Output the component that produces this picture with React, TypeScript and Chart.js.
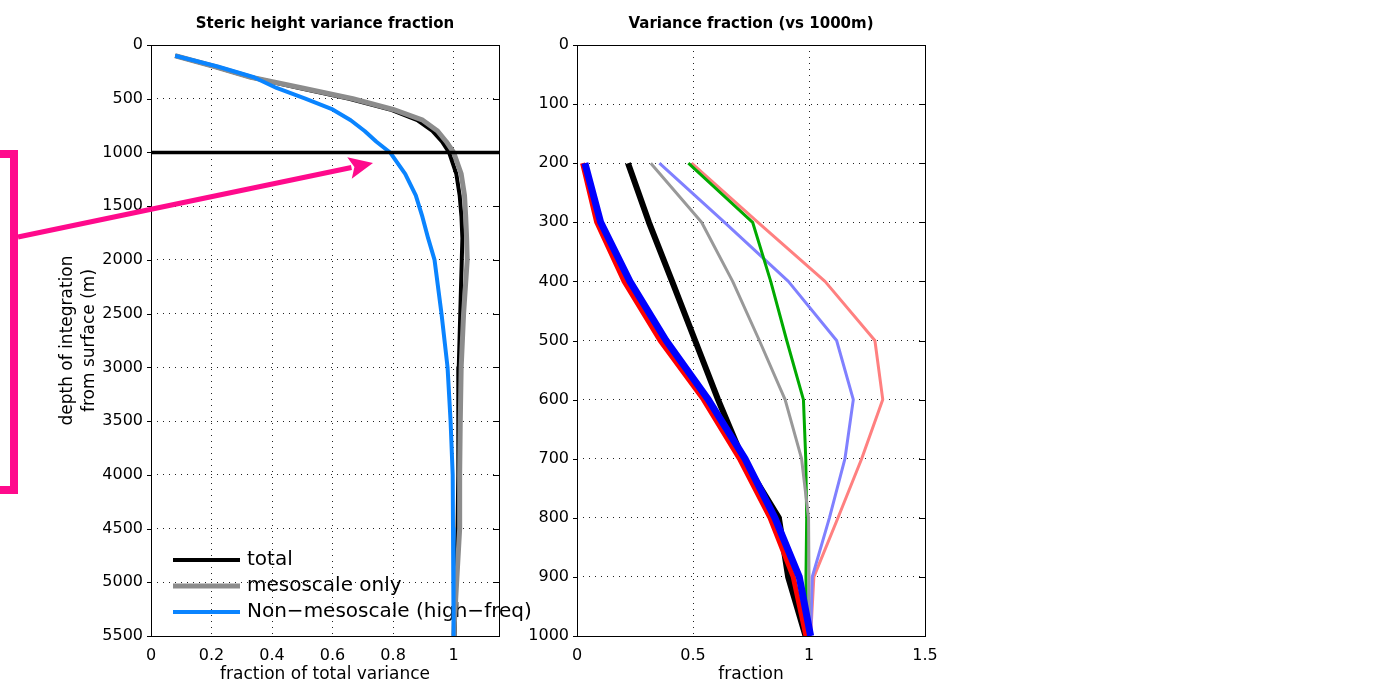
import React, { useEffect, useRef } from 'react';
import { Chart, registerables } from 'chart.js';

Chart.register(...registerables);

const FONT = '"DejaVu Sans", "Liberation Sans", sans-serif';

// ---------- Left panel: Steric height variance fraction ----------
const leftDepths = [100, 200, 300, 400, 500, 600, 700, 800, 900, 1000, 1200, 1400, 1600, 1800, 2000, 2500, 3000, 3500, 4000, 4500, 5000, 5500];
const totalFraction = [0.08, 0.21, 0.33, 0.49, 0.655, 0.79, 0.88, 0.93, 0.962, 0.985, 1.009, 1.02, 1.026, 1.029, 1.027, 1.022, 1.017, 1.016, 1.015, 1.013, 1.007, 1.003];
const mesoFraction = [0.08, 0.21, 0.33, 0.5, 0.667, 0.8, 0.898, 0.947, 0.976, 1.0, 1.025, 1.036, 1.04, 1.043, 1.045, 1.033, 1.025, 1.022, 1.02, 1.02, 1.01, 1.0];
const nonMesoFraction = [0.08, 0.22, 0.34, 0.415, 0.51, 0.6, 0.66, 0.706, 0.745, 0.79, 0.84, 0.875, 0.897, 0.916, 0.937, 0.96, 0.98, 0.99, 0.997, 0.998, 1.0, 1.0];
const referenceDepth = 1000;
const leftYTicks = [0, 500, 1000, 1500, 2000, 2500, 3000, 3500, 4000, 4500, 5000, 5500];
const leftXTicks = [0, 0.2, 0.4, 0.6, 0.8, 1];
const leftXMax = 1.15;
const leftYMax = 5500;
const leftLegend = ['total', 'mesoscale only', 'Non\u2212mesoscale (high\u2212freq)'];

// ---------- Right panel: Variance fraction (vs 1000m) ----------
const rightDepths = [200, 300, 400, 500, 600, 700, 800, 900, 1000];
const rightRed = [0.024, 0.085, 0.203, 0.358, 0.545, 0.7, 0.832, 0.932, 0.987];
const rightBlue = [0.034, 0.102, 0.228, 0.384, 0.566, 0.724, 0.853, 0.958, 1.007];
const rightBlack = [0.22, 0.31, 0.41, 0.509, 0.608, 0.715, 0.87, 0.91, 0.985];
const rightGray = [0.318, 0.537, 0.671, 0.786, 0.897, 0.968, 0.998, 1.0, 1.0];
const rightGreen = [0.48, 0.757, 0.835, 0.904, 0.976, 0.986, 0.99, 0.987, 0.99];
const rightLightBlue = [0.355, 0.636, 0.911, 1.119, 1.191, 1.155, 1.088, 1.014, 1.007];
const rightLightRed = [0.494, 0.78, 1.069, 1.284, 1.318, 1.227, 1.125, 1.021, 1.007];
const rightYTicks = [0, 100, 200, 300, 400, 500, 600, 700, 800, 900, 1000];
const rightXTicks = [0, 0.5, 1, 1.5];

const W = 1384;
const H = 698;

function pts(xs: number[], ys: number[]) {
  return xs.map((x, i) => ({ x, y: ys[i] }));
}

function line(data: any[], color: string, width: number, order: number) {
  return {
    data,
    showLine: true,
    borderColor: color,
    backgroundColor: color,
    borderWidth: width,
    pointRadius: 0,
    pointHoverRadius: 0,
    fill: false,
    tension: 0,
    order,
    borderJoinStyle: 'round' as const,
    borderCapStyle: 'butt' as const,
  };
}

function makeScales(xTicks: number[], xMax: number, yTicks: number[], yMax: number, yWidth: number) {
  const tickFont = { family: FONT, size: 16 };
  return {
    x: {
      type: 'linear' as const,
      min: 0,
      max: xMax,
      afterFit: (s: any) => { s.height = 62; },
      afterBuildTicks: (a: any) => { a.ticks = xTicks.map((v) => ({ value: v })); },
      grid: { color: '#222', lineWidth: 1, drawTicks: false },
      border: { display: false, dash: [1, 5] },
      ticks: { padding: 10, color: '#000', font: tickFont, autoSkip: false, maxRotation: 0, callback: (v: any) => String(v) },
    },
    y: {
      type: 'linear' as const,
      reverse: true,
      min: 0,
      max: yMax,
      afterFit: (s: any) => { s.width = yWidth; },
      afterBuildTicks: (a: any) => { a.ticks = yTicks.map((v) => ({ value: v })); },
      grid: { color: '#222', lineWidth: 1, drawTicks: false },
      border: { display: false, dash: [1, 5] },
      ticks: { padding: 8, color: '#000', font: tickFont, autoSkip: false, callback: (v: any) => String(v) },
    },
  };
}

function frameAndTicks(chart: any, yTicks: number[]) {
  const { ctx, chartArea } = chart;
  const { left, right, top, bottom } = chartArea;
  const ys = chart.scales.y;
  ctx.save();
  ctx.strokeStyle = '#000';
  ctx.lineWidth = 1;
  ctx.strokeRect(Math.round(left) + 0.5, Math.round(top) + 0.5, Math.round(right - left), Math.round(bottom - top));
  ctx.beginPath();
  yTicks.forEach((v) => {
    const y = Math.round(ys.getPixelForValue(v)) + 0.5;
    ctx.moveTo(left - 4, y);
    ctx.lineTo(left, y);
    ctx.moveTo(right - 6, y);
    ctx.lineTo(right, y);
  });
  ctx.stroke();
  ctx.restore();
}

function drawText(ctx: any, text: string, x: number, y: number, font: string, rot = 0) {
  ctx.save();
  ctx.translate(x, y);
  if (rot) ctx.rotate(rot);
  ctx.font = font;
  ctx.fillStyle = '#000';
  ctx.textAlign = 'center';
  ctx.textBaseline = 'middle';
  ctx.fillText(text, 0, 0);
  ctx.restore();
}

const leftPlugin = {
  id: 'leftDecor',
  beforeDatasetsDraw(chart: any) {
    const { ctx } = chart;
    const colors = ['#000000', '#8c8c8c', '#0a84ff'];
    const widths = [4, 5, 4];
    const ys = [560, 586, 612];
    ctx.save();
    leftLegend.forEach((t, i) => {
      ctx.strokeStyle = colors[i];
      ctx.lineWidth = widths[i];
      ctx.beginPath();
      ctx.moveTo(173, ys[i]);
      ctx.lineTo(240, ys[i]);
      ctx.stroke();
      ctx.font = `20px ${FONT}`;
      ctx.fillStyle = '#000';
      ctx.textAlign = 'left';
      ctx.textBaseline = 'middle';
      ctx.fillText(t, 247, ys[i]);
    });
    ctx.restore();
  },
  afterDraw(chart: any) {
    const { ctx, chartArea } = chart;
    frameAndTicks(chart, leftYTicks);
    const cx = (chartArea.left + chartArea.right) / 2;
    drawText(ctx, 'Steric height variance fraction', cx, 24, `bold 15px ${FONT}`);
    drawText(ctx, 'fraction of total variance', cx, 675, `17px ${FONT}`);
    const cy = (chartArea.top + chartArea.bottom) / 2;
    drawText(ctx, 'depth of integration', 68, cy, `17px ${FONT}`, -Math.PI / 2);
    drawText(ctx, 'from surface (m)', 90, cy, `17px ${FONT}`, -Math.PI / 2);

    // magenta annotation
    const pink = '#ff0a8c';
    ctx.save();
    ctx.strokeStyle = pink;
    ctx.fillStyle = pink;
    ctx.lineWidth = 8;
    ctx.lineJoin = 'miter';
    ctx.beginPath();
    ctx.moveTo(0, 154);
    ctx.lineTo(14, 154);
    ctx.lineTo(14, 490);
    ctx.lineTo(0, 490);
    ctx.stroke();
    const x0 = 18, y0 = 237, x1 = 373, y1 = 163;
    const ang = Math.atan2(y1 - y0, x1 - x0);
    const hl = 24, hw = 11;
    const bx = x1 - hl * Math.cos(ang), by = y1 - hl * Math.sin(ang);
    ctx.lineWidth = 5;
    ctx.beginPath();
    ctx.moveTo(x0, y0);
    ctx.lineTo(bx + 2 * Math.cos(ang), by + 2 * Math.sin(ang));
    ctx.stroke();
    ctx.beginPath();
    ctx.moveTo(x1, y1);
    ctx.lineTo(bx - hw * Math.sin(ang), by + hw * Math.cos(ang));
    ctx.lineTo(bx + 5 * Math.cos(ang), by + 5 * Math.sin(ang));
    ctx.lineTo(bx + hw * Math.sin(ang), by - hw * Math.cos(ang));
    ctx.closePath();
    ctx.fill();
    ctx.restore();
  },
};

const rightPlugin = {
  id: 'rightDecor',
  afterDraw(chart: any) {
    const { ctx, chartArea } = chart;
    frameAndTicks(chart, rightYTicks);
    const cx = (chartArea.left + chartArea.right) / 2;
    drawText(ctx, 'Variance fraction (vs 1000m)', cx, 24, `bold 15px ${FONT}`);
    drawText(ctx, 'fraction', cx, 675, `17px ${FONT}`);
  },
};

export default function App() {
  const leftRef = useRef<HTMLCanvasElement>(null);
  const rightRef = useRef<HTMLCanvasElement>(null);

  useEffect(() => {
    const left = new Chart(leftRef.current as HTMLCanvasElement, {
      type: 'scatter',
      data: {
        datasets: [
          line([{ x: 0, y: referenceDepth }, { x: leftXMax, y: referenceDepth }], '#000000', 3.5, 0),
          line(pts(nonMesoFraction, leftDepths), '#0a84ff', 4, 1),
          line(pts(mesoFraction, leftDepths), '#8c8c8c', 5, 2),
          line(pts(totalFraction, leftDepths), '#000000', 4, 3),
        ] as any,
      },
      options: {
        animation: false,
        responsive: false,
        devicePixelRatio: 1,
        layout: { padding: { left: 0, right: W - 499, top: 45, bottom: 0 } },
        plugins: { legend: { display: false }, tooltip: { enabled: false } },
        events: [],
        scales: makeScales(leftXTicks, leftXMax, leftYTicks, leftYMax, 151) as any,
      },
      plugins: [leftPlugin],
    });

    const right = new Chart(rightRef.current as HTMLCanvasElement, {
      type: 'scatter',
      data: {
        datasets: [
          line(pts(rightBlue, rightDepths), '#0000ff', 7, 0),
          line(pts(rightRed, rightDepths), '#ff0000', 5, 1),
          line(pts(rightBlack, rightDepths), '#000000', 6, 2),
          line(pts(rightGray, rightDepths), '#999999', 3, 3),
          line(pts(rightGreen, rightDepths), '#00aa00', 3, 4),
          line(pts(rightLightBlue, rightDepths), '#8080ff', 3, 5),
          line(pts(rightLightRed, rightDepths), '#ff8080', 3, 6),
        ] as any,
      },
      options: {
        animation: false,
        responsive: false,
        devicePixelRatio: 1,
        layout: { padding: { left: 577 - 60, right: W - 925, top: 45, bottom: 0 } },
        plugins: { legend: { display: false }, tooltip: { enabled: false } },
        events: [],
        scales: makeScales(rightXTicks, 1.5, rightYTicks, 1000, 60) as any,
      },
      plugins: [rightPlugin],
    });

    return () => {
      left.destroy();
      right.destroy();
    };
  }, []);

  const canvasStyle: React.CSSProperties = { position: 'absolute', left: 0, top: 0, width: W, height: H };
  return (
    <div style={{ position: 'fixed', left: 0, top: 0, width: W, height: H, background: '#fff' }}>
      <canvas ref={leftRef} width={W} height={H} style={canvasStyle} />
      <canvas ref={rightRef} width={W} height={H} style={canvasStyle} />
    </div>
  );
}
